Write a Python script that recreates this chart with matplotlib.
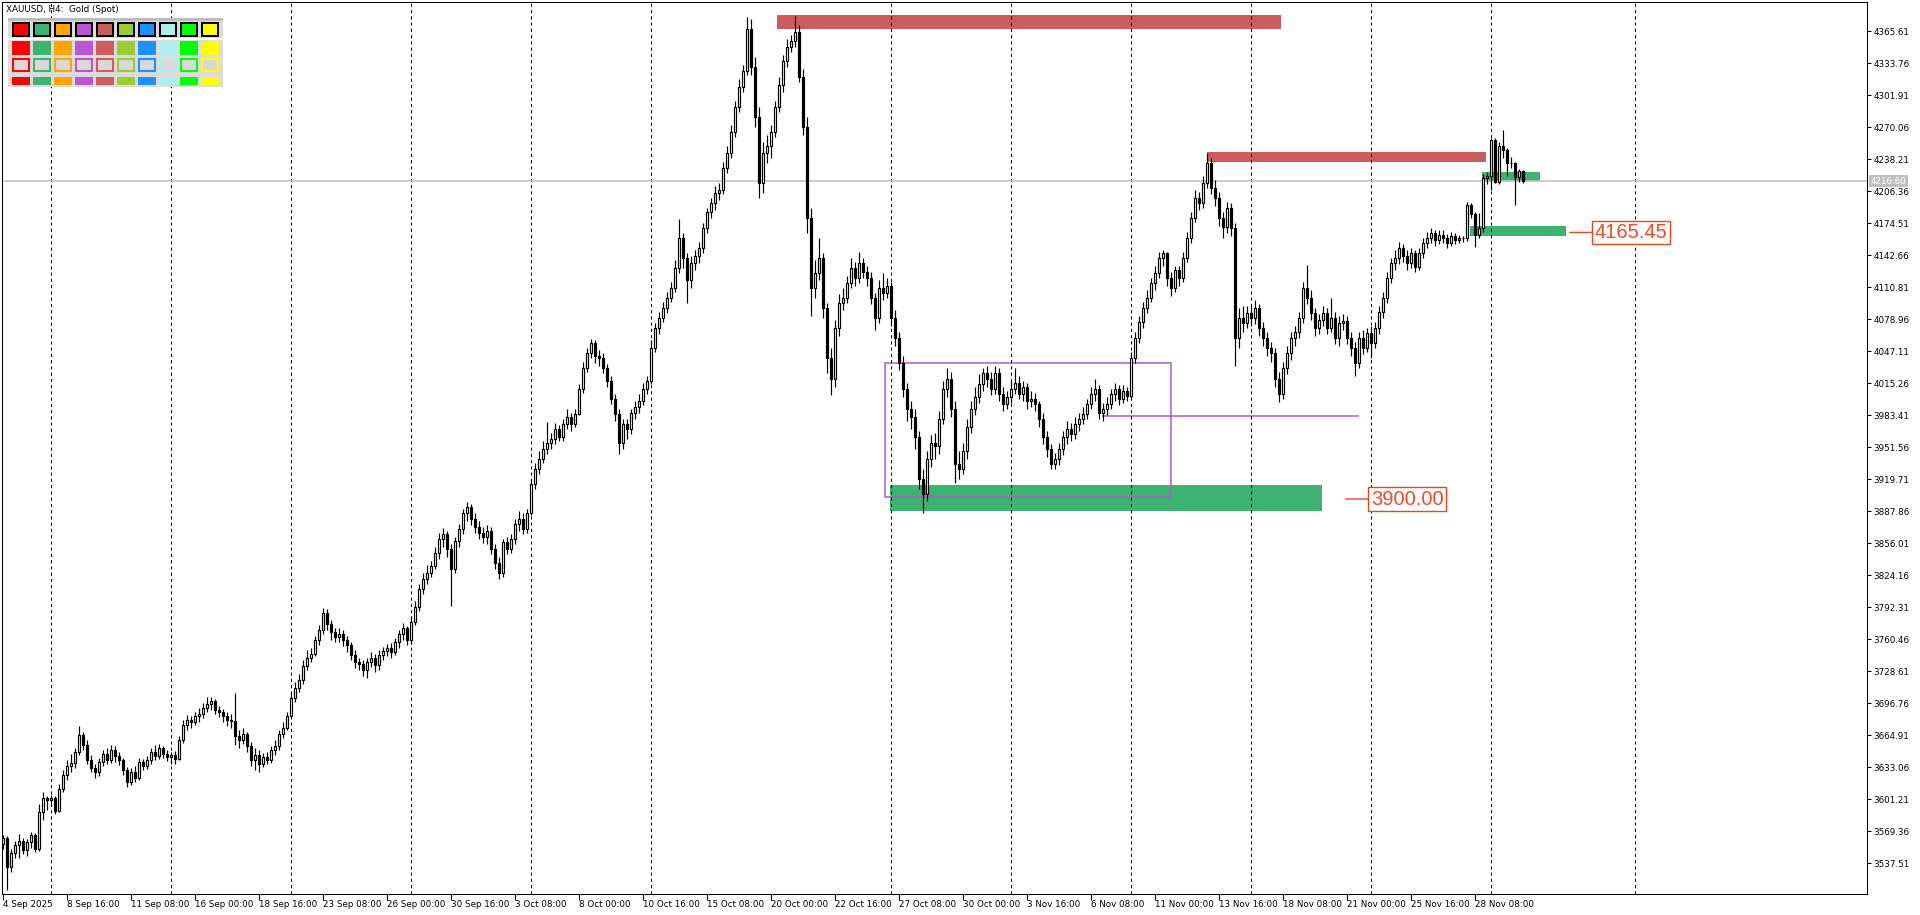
import numpy as np
import matplotlib
matplotlib.use("Agg")
import matplotlib.pyplot as plt
from matplotlib.patches import Rectangle

plt.rcParams['font.family'] = ['DejaVu Sans']

# XAUUSD H4 bars, 4 Sep 2025 00:00 .. 2 Dec 2025 08:00 (6 bars per day)
first_open = 3556
close_prices = [
    3562, 3534, 3548, 3555, 3559, 3551,  # 4 Sep
    3558, 3565, 3552, 3588, 3602, 3600,  # 5 Sep
    3602, 3589, 3611, 3625, 3634, 3637,  # 8 Sep
    3648, 3665, 3655, 3640, 3632, 3628,
    3638, 3646, 3640, 3650, 3644, 3640,
    3630, 3618, 3628, 3622, 3638, 3634,
    3640, 3648, 3644, 3652, 3646, 3643,
    3645, 3641, 3660, 3675, 3680, 3678,  # 15 Sep
    3684, 3686, 3692, 3696, 3699, 3690,
    3688, 3684, 3680, 3679, 3664, 3660,
    3666, 3654, 3640, 3645, 3636, 3643,
    3640, 3650, 3654, 3666, 3672, 3684,
    3702, 3712, 3720, 3734, 3742, 3746,  # 22 Sep
    3760, 3770, 3787, 3776, 3768, 3763,
    3766, 3760, 3755, 3745, 3738, 3736,
    3730, 3738, 3742, 3735, 3745, 3749,
    3752, 3748, 3758, 3766, 3772, 3760,
    3778, 3792, 3810, 3820, 3826, 3833,  # 29 Sep
    3846, 3860, 3865, 3850, 3830, 3858,
    3870, 3886, 3892, 3880, 3872, 3866,
    3862, 3868, 3850, 3836, 3826, 3857,
    3850, 3860, 3875, 3880, 3870, 3886,
    3915, 3930, 3940, 3950, 3956, 3960,  # 6 Oct
    3970, 3962, 3975, 3982, 3975, 3985,
    4010, 4030, 4045, 4055, 4042, 4040,
    4030, 4018, 4000, 3985, 3956, 3975,
    3970, 3986, 3992, 3998, 4010, 4018,
    4050, 4070, 4080, 4090, 4100, 4110,  # 13 Oct
    4130, 4160, 4140, 4118, 4135, 4142,
    4150, 4170, 4186, 4195, 4205, 4208,
    4230, 4245, 4265, 4290, 4310, 4326,
    4368, 4330, 4280, 4215, 4245, 4252,
    4265, 4290, 4312, 4336, 4350, 4356,  # 20 Oct
    4365, 4320, 4270, 4180, 4110, 4125,
    4140, 4090, 4040, 4020, 4070, 4095,
    4100, 4115, 4130, 4120, 4135, 4126,
    4120, 4100, 4080, 4110, 4105, 4112,
    4080, 4060, 4035, 4010, 3990, 3982,  # 27 Oct
    3962, 3920, 3905, 3940, 3956, 3953,
    3980, 4010, 4020, 3990, 3935, 3930,
    3948, 3972, 3990, 4002, 4015, 4025,
    4020, 4010, 4025, 4005, 3995, 4002,
    4010, 4016, 4005, 4012, 3998, 4000,  # 3 Nov
    3995, 3980, 3962, 3950, 3935, 3940,
    3950, 3962, 3970, 3965, 3975, 3980,
    3985, 3995, 4005, 4010, 3986, 3990,
    3995, 4005, 4010, 4000, 4008, 4003,
    4040, 4060, 4076, 4090, 4100, 4115,  # 10 Nov
    4125, 4140, 4145, 4120, 4110, 4128,
    4120, 4140, 4160, 4180, 4200, 4195,
    4215, 4235, 4210, 4200, 4180, 4171,
    4190, 4170, 4060, 4080, 4075, 4085,
    4080, 4090, 4070, 4060, 4050, 4045,  # 17 Nov
    4020, 4005, 4030, 4045, 4060, 4066,
    4080, 4110, 4100, 4085, 4070, 4078,
    4085, 4070, 4080, 4060, 4075, 4077,
    4060, 4050, 4035, 4060, 4050, 4065,
    4055, 4070, 4086, 4100, 4120, 4135,  # 24 Nov
    4140, 4150, 4142, 4135, 4145, 4131,
    4145, 4155, 4160, 4165, 4158, 4163,
    4160, 4155, 4162, 4158, 4160, 4160,
    4193, 4184, 4163, 4170, 4220, 4222,
    4257, 4216, 4252, 4248, 4235, 4235,  # 1 Dec
    4221, 4227, 4216.60,
]
high_prices = [
    3565, 3564, 3552, 3559, 3566, 3562,
    3561, 3568, 3567, 3596, 3608, 3604,
    3605, 3604, 3616, 3630, 3640, 3646,
    3652, 3674, 3668, 3660, 3645, 3636,
    3642, 3650, 3652, 3655, 3654, 3648,
    3642, 3633, 3632, 3634, 3642, 3641,
    3644, 3652, 3655, 3656, 3654, 3650,
    3648, 3649, 3664, 3680, 3685, 3684,
    3688, 3692, 3697, 3703, 3703, 3701,
    3694, 3691, 3688, 3686, 3707, 3670,
    3672, 3668, 3658, 3652, 3650, 3647,
    3648, 3654, 3660, 3670, 3678, 3688,
    3708, 3718, 3726, 3740, 3750, 3752,
    3764, 3775, 3791, 3790, 3780, 3772,
    3772, 3770, 3764, 3758, 3750, 3742,
    3740, 3742, 3748, 3746, 3750, 3753,
    3756, 3757, 3762, 3770, 3777, 3774,
    3784, 3798, 3815, 3826, 3834, 3838,
    3852, 3866, 3871, 3868, 3855, 3862,
    3875, 3890, 3897, 3895, 3886, 3878,
    3872, 3874, 3872, 3855, 3842, 3860,
    3862, 3865, 3880, 3888, 3886, 3890,
    3920, 3936, 3948, 3958, 3977, 3966,
    3976, 3974, 3980, 3990, 3986, 3990,
    4015, 4036, 4050, 4059, 4058, 4048,
    4045, 4034, 4022, 4005, 3990, 3980,
    3980, 3990, 3998, 4005, 4016, 4022,
    4058, 4075, 4086, 4096, 4106, 4116,
    4138, 4179, 4165, 4145, 4142, 4148,
    4156, 4175, 4190, 4200, 4212, 4215,
    4236, 4252, 4272, 4296, 4318, 4332,
    4380, 4378, 4340, 4290, 4255, 4262,
    4272, 4296, 4320, 4342, 4358, 4362,
    4381, 4372, 4328, 4280, 4190, 4138,
    4160, 4145, 4095, 4050, 4078, 4104,
    4110, 4122, 4140, 4136, 4146, 4140,
    4132, 4126, 4105, 4118, 4125, 4120,
    4116, 4088, 4066, 4042, 4016, 3998,
    3990, 3968, 3930, 3948, 3964, 3966,
    3988, 4018, 4030, 4026, 3998, 3948,
    3956, 3980, 3998, 4012, 4024, 4030,
    4032, 4026, 4032, 4030, 4012, 4008,
    4018, 4030, 4022, 4018, 4016, 4008,
    4006, 3998, 3986, 3968, 3955, 3946,
    3956, 3968, 3978, 3976, 3982, 3986,
    3992, 4000, 4012, 4020, 4014, 3996,
    4002, 4010, 4016, 4014, 4014, 4012,
    4046, 4066, 4082, 4096, 4108, 4120,
    4132, 4146, 4148, 4146, 4126, 4132,
    4132, 4146, 4166, 4186, 4208, 4206,
    4222, 4245, 4240, 4218, 4206, 4186,
    4196, 4195, 4175, 4090, 4092, 4092,
    4092, 4098, 4094, 4076, 4066, 4056,
    4050, 4026, 4036, 4052, 4066, 4072,
    4086, 4116, 4133, 4108, 4090, 4084,
    4092, 4090, 4100, 4086, 4082, 4084,
    4082, 4066, 4056, 4066, 4068, 4070,
    4072, 4076, 4092, 4106, 4126, 4140,
    4148, 4156, 4154, 4148, 4150, 4148,
    4150, 4160, 4166, 4170, 4168, 4168,
    4168, 4164, 4166, 4165, 4163, 4162,
    4196, 4195, 4186, 4185, 4224, 4226,
    4259, 4259, 4255, 4267, 4250, 4241,
    4236, 4229, 4228,
]
low_prices = [
    3552, 3511, 3529, 3543, 3543, 3547,
    3545, 3553, 3549, 3550, 3580, 3590,
    3595, 3586, 3588, 3608, 3620, 3628,
    3632, 3645, 3650, 3636, 3628, 3622,
    3624, 3634, 3636, 3637, 3638, 3635,
    3625, 3613, 3615, 3618, 3620, 3630,
    3631, 3636, 3640, 3641, 3642, 3639,
    3636, 3636, 3640, 3657, 3670, 3672,
    3675, 3678, 3682, 3688, 3690, 3686,
    3683, 3678, 3674, 3672, 3655, 3652,
    3656, 3648, 3634, 3630, 3628, 3633,
    3636, 3637, 3645, 3650, 3662, 3670,
    3684, 3698, 3708, 3716, 3730, 3738,
    3744, 3755, 3766, 3770, 3760, 3758,
    3758, 3754, 3748, 3740, 3732, 3730,
    3724, 3722, 3733, 3728, 3730, 3740,
    3744, 3742, 3745, 3752, 3760, 3755,
    3756, 3775, 3788, 3805, 3815, 3822,
    3830, 3840, 3852, 3842, 3793, 3826,
    3852, 3865, 3878, 3874, 3866, 3860,
    3856, 3855, 3845, 3830, 3820, 3822,
    3845, 3846, 3855, 3868, 3865, 3866,
    3884, 3910, 3925, 3936, 3945, 3950,
    3955, 3958, 3958, 3970, 3968, 3972,
    3984, 4006, 4026, 4040, 4035, 4032,
    4025, 4012, 3995, 3978, 3945, 3950,
    3960, 3965, 3980, 3986, 3994, 4005,
    4015, 4046, 4064, 4076, 4085, 4096,
    4106, 4125, 4130, 4095, 4110, 4128,
    4135, 4145, 4165, 4180, 4188, 4198,
    4204, 4225, 4240, 4260, 4285, 4305,
    4322, 4322, 4270, 4200, 4205, 4235,
    4240, 4260, 4285, 4305, 4330, 4345,
    4350, 4315, 4262, 4165, 4082, 4100,
    4118, 4080, 4025, 4004, 4012, 4062,
    4088, 4095, 4110, 4112, 4115, 4120,
    4112, 4094, 4068, 4075, 4098, 4100,
    4072, 4052, 4028, 4002, 3978, 3970,
    3950, 3910, 3886, 3898, 3932, 3940,
    3945, 3975, 4002, 3982, 3916, 3920,
    3925, 3940, 3966, 3984, 3996, 4008,
    4012, 4004, 4005, 3998, 3988, 3990,
    3996, 4005, 4000, 3998, 3990, 3992,
    3988, 3972, 3955, 3942, 3930, 3930,
    3934, 3944, 3955, 3958, 3960, 3968,
    3975, 3980, 3990, 3998, 3980, 3978,
    3984, 3990, 3998, 3994, 3996, 3998,
    4000, 4035, 4055, 4070, 4085, 4096,
    4108, 4120, 4132, 4112, 4102, 4106,
    4112, 4116, 4136, 4155, 4176, 4188,
    4190, 4210, 4204, 4192, 4172, 4160,
    4165, 4162, 4032, 4050, 4066, 4070,
    4072, 4074, 4062, 4052, 4042, 4036,
    4012, 3997, 4000, 4024, 4038, 4052,
    4060, 4075, 4094, 4078, 4062, 4064,
    4072, 4064, 4066, 4054, 4052, 4068,
    4054, 4042, 4022, 4030, 4044, 4046,
    4040, 4050, 4064, 4080, 4095, 4115,
    4128, 4134, 4136, 4128, 4130, 4126,
    4128, 4140, 4150, 4155, 4152, 4154,
    4155, 4150, 4152, 4154, 4155, 4156,
    4157, 4180, 4151, 4160, 4166, 4214,
    4208, 4215, 4214, 4240, 4222, 4230,
    4193, 4216, 4215,
]

x_label_bars = [0, 16, 32, 48, 64, 80, 96, 112, 128, 144, 160, 176, 192, 208,
                224, 240, 256, 272, 288, 304, 320, 336, 352, 368]
x_labels = ['4 Sep 2025', '8 Sep 16:00', '11 Sep 08:00', '16 Sep 00:00', '18 Sep 16:00',
            '23 Sep 08:00', '26 Sep 00:00', '30 Sep 16:00', '3 Oct 08:00', '8 Oct 00:00',
            '10 Oct 16:00', '15 Oct 08:00', '20 Oct 00:00', '22 Oct 16:00', '27 Oct 08:00',
            '30 Oct 00:00', '3 Nov 16:00', '6 Nov 08:00', '11 Nov 00:00', '13 Nov 16:00',
            '18 Nov 08:00', '21 Nov 00:00', '25 Nov 16:00', '28 Nov 08:00']
week_start_bars = [12, 42, 72, 102, 132, 162, 192, 222, 252, 282, 312, 342, 372, 408]
y_ticks = [3537.51, 3569.36, 3601.21, 3633.06, 3664.91, 3696.76, 3728.61, 3760.46,
           3792.31, 3824.16, 3856.01, 3887.86, 3919.71, 3951.56, 3983.41, 4015.26,
           4047.11, 4078.96, 4110.81, 4142.66, 4174.51, 4206.36, 4238.21, 4270.06,
           4301.91, 4333.76, 4365.61]
last_price = 4216.60

# supply / demand zones drawn on the chart
zone_start = [193.7, 301.1, 221.9, 366.8, 369.8]
zone_end = [319.6, 370.8, 329.8, 390.8, 384.3]
zone_low = [4368.3, 4235.2, 3888.0, 4161.9, 4216.3]
zone_high = [4382.2, 4245.8, 3913.5, 4171.9, 4225.3]
zone_colors = ['#CD5C5C', '#CD5C5C', '#3CB371', '#3CB371', '#3CB371']

range_box = [220.6, 292.1, 3901.9, 4035.8]   # start bar, end bar, low, high
range_line = [274.8, 339.1, 3982.3]          # start bar, end bar, price

label_values = [3900.00, 4165.45]
label_anchor_bars = [335.8, 391.8]

palette = ['#FF0000', '#3CB371', '#FFA500', '#BA55D3', '#CD5C5C',
           '#9ACD32', '#1E90FF', '#AFEEEE', '#00FF00', '#FFFF00']

fig = plt.figure(figsize=(19.2, 9.15), dpi=100)
ax = fig.add_axes([2 / 1920, 21 / 915, 1865 / 1920, 892 / 915])
ax.set_xlim(-0.175, 466.1)
ax.set_ylim(3506.7, 4394.9)

# zones and objects
for s, e, lo, hi, col in zip(zone_start, zone_end, zone_low, zone_high, zone_colors):
    ax.add_patch(Rectangle((s, lo), e - s, hi - lo, fc=col, ec='none', zorder=1))
ax.add_patch(Rectangle((range_box[0], range_box[2]), range_box[1] - range_box[0],
                       range_box[3] - range_box[2], fill=False, ec='#BA55D3', lw=1.1, zorder=1.2))
ax.hlines(range_line[2], range_line[0], range_line[1], color='#BA55D3', lw=1.1, zorder=1.2)

ax.axhline(last_price, color='#C0C0C0', lw=1.1, zorder=2)

# candles
c = np.array(close_prices, dtype=float)
o = np.array([first_open] + close_prices[:-1], dtype=float)
x = np.arange(len(c))
up = c >= o
ax.vlines(x, low_prices, high_prices, color='black', lw=0.85, zorder=3)
ax.bar(x, np.abs(c - o), bottom=np.minimum(o, c), width=0.55,
       color=np.where(up, 'white', 'black'), edgecolor='black', linewidth=0.85, zorder=4)

# price labels
for v, a in zip(label_values, label_anchor_bars):
    ax.annotate(f'{v:.2f}', xy=(a, v), xytext=(18, 0), textcoords='offset points',
                ha='left', va='center', fontsize=14.5, family='Liberation Sans', color='#EE4B2B',
                bbox=dict(boxstyle='square,pad=0.12', fc='white', ec='#E8471C', lw=1),
                arrowprops=dict(arrowstyle='-', color='#E8471C', lw=1, shrinkA=0, shrinkB=0),
                zorder=6)

ax.annotate(f'{last_price:.2f}', xy=(1, last_price), xycoords=('axes fraction', 'data'),
            xytext=(2.5, 0), textcoords='offset points', ha='left', va='center',
            fontsize=6.3, color='white', annotation_clip=False, zorder=10,
            bbox=dict(boxstyle='square,pad=0.15', fc='#C0C0C0', ec='none'))

# axes
ax.yaxis.tick_right()
ax.set_yticks(y_ticks)
ax.set_yticklabels([f'{v:.2f}' for v in y_ticks])
ax.set_xticks(x_label_bars)
ax.set_xticklabels(x_labels, ha='left')
ax.set_xticks(week_start_bars, minor=True)
ax.tick_params(axis='y', direction='out', length=3, width=0.75, pad=1.5, labelsize=6.3)
ax.tick_params(axis='x', which='major', direction='out', length=4, width=0.75, pad=0.5, labelsize=6.3)
ax.tick_params(axis='x', which='minor', length=0)
ax.set_axisbelow('line')
ax.grid(True, which='minor', axis='x', color='black', linestyle=(0, (3, 3)), lw=0.75)
for sp in ax.spines.values():
    sp.set_linewidth(0.75)
    sp.set_color('black')

# overlay: title and colour palette widget
ov = fig.add_axes([0, 0, 1, 1], zorder=5)
ov.set_xlim(0, 1920)
ov.set_ylim(915, 0)
ov.axis('off')
ov.patch.set_alpha(0)
ov.text(6.5, 9.5, 'XAUUSD, H4:  Gold (Spot)', fontsize=6.3, va='center', ha='left')
ov.add_patch(Rectangle((8.3, 17.7), 214.4, 69.6, fc='#DCDCDC', ec='none'))
ov.add_patch(Rectangle((8.3, 17.7), 214.4, 3, fc='#BDBDBD', ec='none'))
ov.add_patch(Rectangle((8.3, 38.3), 214.4, 1.5, fc='white', ec='none'))
for i, col in enumerate(palette):
    x0 = 11.7 + 21 * i
    ov.add_patch(Rectangle((x0, 21.7), 18.3, 15, fc='black', ec='none'))
    ov.add_patch(Rectangle((x0 + 2, 23.7), 14.3, 11, fc=col, ec='none'))
    ov.add_patch(Rectangle((x0, 40.7), 18.3, 14.3, fc=col, ec='none'))
    ov.add_patch(Rectangle((x0 + 1, 58.7), 16.3, 12.3, fc='#D9D9D9', ec=col, lw=1.5))
    ov.add_patch(Rectangle((x0, 76.7), 18.3, 8.3, fc=col, ec='none'))

fig.savefig('out.png', dpi=100)
